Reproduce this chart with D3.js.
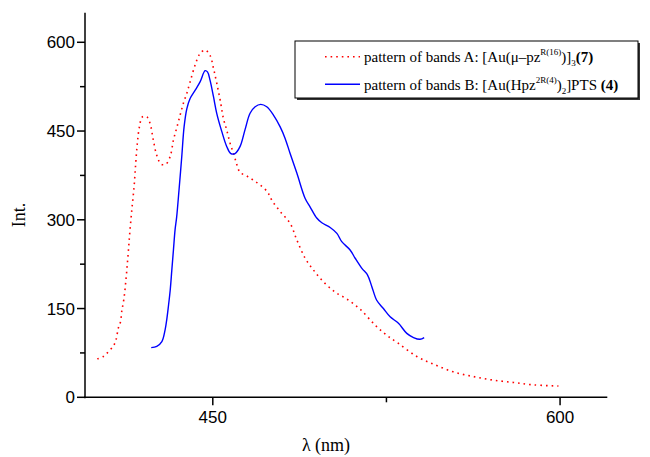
<!DOCTYPE html>
<html>
<head>
<meta charset="utf-8">
<script src="https://cdn.jsdelivr.net/npm/d3@7"></script>
<style>
  body { margin: 0; background: #fff; }
  svg { display: block; }
</style>
</head>
<body>
<svg id="canvas" width="650" height="457"></svg>
<script>
// band A (red dotted)
var lamA = [400.1, 402.7, 404.9, 407.1, 408.2, 409.2, 410.1, 410.7, 411.6, 412.4, 413.1, 413.7, 414.1, 415.0, 416.0, 416.7, 417.4, 418.3, 419.6, 421.5, 422.9, 424.3, 425.8, 427.7, 429.7, 431.6, 433.0, 434.4, 435.9, 437.3, 438.8, 440.2, 442.4, 444.5, 446.7, 448.8, 450.3, 451.7, 453.2, 454.6, 456.0, 457.5, 459.2, 460.4, 461.8, 464.7, 467.5, 470.4, 473.6, 475.5, 479.1, 483.4, 486.3, 489.9, 493.5, 497.8, 502.8, 507.9, 513.6, 520.1, 525.1, 530.2, 538.1, 545.3, 553.9, 562.6, 571.2, 579.9, 588.5, 599.3]
var intA = [65, 69, 77, 87, 97, 117, 127, 146, 166, 195, 226, 256, 276, 316, 356, 395, 429, 457, 474, 474, 463, 435, 409, 394, 394, 407, 435, 455, 477, 497, 514, 533, 562, 581, 587, 578, 556, 531, 502, 471, 452, 429, 409, 393, 380, 374, 367, 359, 347, 333, 314, 294, 266, 235, 215, 195, 178, 166, 149, 122, 105, 91, 69, 56, 43, 35, 29, 25, 21, 19]

// band B (blue solid)
var lamB = [423.4, 425.8, 428.0, 429.4, 430.1, 430.8, 431.6, 432.3, 433.0, 433.7, 434.4, 435.4, 436.6, 437.6, 438.8, 440.2, 442.4, 444.5, 446.7, 447.7, 448.8, 450.3, 451.7, 453.9, 456.0, 457.8, 459.6, 461.8, 463.9, 466.1, 468.3, 470.7, 473.3, 476.2, 479.1, 481.2, 483.4, 486.3, 489.9, 492.0, 494.9, 497.1, 500.7, 503.6, 505.7, 509.3, 511.5, 514.4, 516.8, 518.7, 520.8, 523.7, 526.6, 530.2, 533.8, 536.7, 539.5, 541.3]
var intB = [84, 86, 94, 114, 131, 153, 181, 215, 249, 283, 305, 350, 407, 457, 488, 505, 519, 533, 552, 550, 536, 508, 480, 449, 424, 412, 412, 424, 452, 480, 491, 495, 491, 477, 457, 438, 412, 379, 336, 322, 303, 295, 287, 277, 263, 249, 235, 218, 207, 187, 164, 150, 136, 125, 108, 101, 98, 101]

var xTicks = [450, 525, 600]
var xLabels = ["450", "", "600"]
var yTicks = [0, 75, 150, 225, 300, 375, 450, 525, 600]
var yLabels = ["0", "", "150", "", "300", "", "450", "", "600"]

var svg = d3.select("#canvas")

var x = d3.scaleLinear().domain([394.8, 620.4]).range([85, 607.3])
var y = d3.scaleLinear().domain([0, 650]).range([397.3, 12.7])

// axes, ticks outward, minor ticks shorter
var xAxis = svg.append("g").attr("transform", "translate(0," + y(0) + ")")
xAxis.append("line").attr("x1", x.range()[0] - 1).attr("x2", x.range()[1])
    .attr("stroke", "black").attr("stroke-width", 1.5)
xTicks.forEach(function(t, i) {
    var major = xLabels[i] != ""
    xAxis.append("line").attr("x1", x(t)).attr("x2", x(t)).attr("y1", 0).attr("y2", major ? 8 : 5)
        .attr("stroke", "black").attr("stroke-width", 1.5)
    if (major) {
        xAxis.append("text").attr("x", x(t)).attr("y", 26).attr("text-anchor", "middle")
            .attr("font-family", "Liberation Sans, Arial, sans-serif").attr("font-size", 17)
            .text(xLabels[i])
    }
})

var yAxis = svg.append("g").attr("transform", "translate(" + x.range()[0] + ",0)")
yAxis.append("line").attr("y1", y.range()[0] + 1).attr("y2", y.range()[1])
    .attr("stroke", "black").attr("stroke-width", 1.5)
yTicks.forEach(function(t, i) {
    var major = yLabels[i] != ""
    yAxis.append("line").attr("y1", y(t)).attr("y2", y(t)).attr("x1", 0).attr("x2", major ? -8 : -5)
        .attr("stroke", "black").attr("stroke-width", 1.5)
    if (major) {
        yAxis.append("text").attr("x", -10).attr("y", y(t)).attr("dy", "0.36em").attr("text-anchor", "end")
            .attr("font-family", "Liberation Sans, Arial, sans-serif").attr("font-size", 17)
            .text(yLabels[i])
    }
})

// axis titles
svg.append("text").attr("x", 326).attr("y", 451).attr("text-anchor", "middle")
    .attr("font-family", "Liberation Serif, Times New Roman, serif").attr("font-size", 18)
    .text("λ (nm)")
svg.append("text").attr("transform", "translate(25,215) rotate(-90)").attr("text-anchor", "middle")
    .attr("font-family", "Liberation Serif, Times New Roman, serif").attr("font-size", 18)
    .text("Int.")

// curves
var line = d3.line()
    .x(function(d) { return x(d[0]) })
    .y(function(d) { return y(d[1]) })
    .curve(d3.curveCatmullRom)

svg.append("path").datum(d3.zip(lamA, intA)).attr("d", line)
    .attr("fill", "none").attr("stroke", "#ff0000").attr("stroke-width", 1.6)
    .attr("stroke-dasharray", "1.6,4")
svg.append("path").datum(d3.zip(lamB, intB)).attr("d", line)
    .attr("fill", "none").attr("stroke", "#0000ff").attr("stroke-width", 1.4)

// legend box with shadow
var lg = svg.append("g")
lg.append("rect").attr("x", 297).attr("y", 43).attr("width", 343).attr("height", 57).attr("fill", "#333")
lg.append("rect").attr("x", 295).attr("y", 41).attr("width", 343).attr("height", 57)
    .attr("fill", "white").attr("stroke", "black").attr("stroke-width", 1)

lg.append("line").attr("x1", 325).attr("x2", 360).attr("y1", 56.7).attr("y2", 56.7)
    .attr("stroke", "#ff0000").attr("stroke-width", 1.6).attr("stroke-dasharray", "1.6,4")
lg.append("line").attr("x1", 325).attr("x2", 360).attr("y1", 84.3).attr("y2", 84.3)
    .attr("stroke", "#0000ff").attr("stroke-width", 1.4)

var font = "Liberation Serif, Times New Roman, serif"
var t1 = lg.append("text").attr("x", 364).attr("y", 62).attr("font-family", font).attr("font-size", 15)
t1.append("tspan").text("pattern of bands A: [Au(μ–pz")
t1.append("tspan").attr("dy", -7).attr("font-size", 9).text("R(16)")
t1.append("tspan").attr("dy", 7).text(")]")
t1.append("tspan").attr("dy", 4).attr("font-size", 9).text("3")
t1.append("tspan").attr("dy", -4).attr("font-weight", "bold").text("(7)")

var t2 = lg.append("text").attr("x", 364).attr("y", 89.5).attr("font-family", font).attr("font-size", 15)
t2.append("tspan").text("pattern of bands B: [Au(Hpz")
t2.append("tspan").attr("dy", -7).attr("font-size", 9).text("2R(4)")
t2.append("tspan").attr("dy", 7).text(")")
t2.append("tspan").attr("dy", 4).attr("font-size", 9).text("2")
t2.append("tspan").attr("dy", -4).text("]PTS ")
t2.append("tspan").attr("font-weight", "bold").text("(4)")
</script>
</body>
</html>
